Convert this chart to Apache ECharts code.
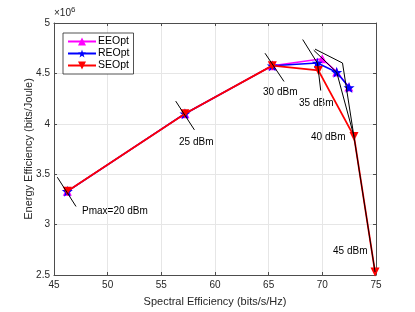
<!DOCTYPE html>
<html><head><meta charset="utf-8">
<script src="https://cdn.jsdelivr.net/npm/echarts@6/dist/echarts.min.js"></script>
<style>html,body{margin:0;padding:0;background:#fff}#c{width:415px;height:312px}</style>
</head><body><div id="c"></div>
<script>
const xTicks = [45, 50, 55, 60, 65, 70, 75];
const yTicks = [2.5, 3, 3.5, 4, 4.5, 5];
const powerLabels = ['Pmax=20 dBm', '25 dBm', '30 dBm', '35 dBm', '40 dBm', '45 dBm'];
// [spectral efficiency, energy efficiency (x1e6)]
const eeOpt = [[46.24, 3.33], [57.2, 4.10], [65.34, 4.577], [69.99, 4.645], [71.34, 4.515], [72.47, 4.365]];
const reOpt = [[46.24, 3.33], [57.2, 4.10], [65.34, 4.577], [69.53, 4.603], [71.34, 4.511], [72.49, 4.36]];
const seOpt = [[46.24, 3.33], [57.2, 4.10], [65.34, 4.577], [69.63, 4.53], [72.95, 3.875], [74.91, 2.53]];
// black guide lines grouping points of equal Pmax
const guide20 = [[45.31, 3.47], [47.05, 3.18]];
const guide25 = [[56.34, 4.225], [58.08, 3.94]];
const guide30 = [[64.66, 4.70], [66.43, 4.42]];
const guide35 = [[68.17, 4.836], [69.55, 4.60], [69.85, 4.33]];
const guide40 = [[69.2, 4.73], [71.34, 4.511], [72.95, 3.875]];
const guide45 = [[69.32, 4.741], [71.88, 4.603], [74.91, 2.53]];

const scale = 1e6;
const sc = a => a.map(p => [p[0], p[1] * scale]);
const FONT = 'Liberation Sans, Arial, sans-serif';
const TXT = '#262626';
const AX = '#4d4d4d';
const star = 'path://M50,0 L61.8,35.3 L98,35.3 L68.8,57 L79.5,91 L50,70 L20.5,91 L31.2,57 L2,35.3 L38.2,35.3 Z';

const chart = echarts.init(document.getElementById('c'), null, {renderer: 'canvas'});
const guideSeries = [guide20, guide25, guide30, guide35, guide40, guide45].map(g => ({
  type: 'line', data: sc(g), symbol: 'none', silent: true, z: 5,
  lineStyle: {color: '#000', width: 1}, animation: false
}));
const labelPos = [[82, 211], [179, 142], [263, 92], [299, 103], [311, 137], [333, 251]];

chart.setOption({
  animation: false,
  textStyle: {fontFamily: FONT},
  grid: {left: 54, right: 39, top: 23, bottom: 35, show: false},
  xAxis: [{
    type: 'value', min: 45, max: 75, interval: 5,
    name: 'Spectral Efficiency (bits/s/Hz)', nameLocation: 'middle', nameGap: 21, nameMoveOverlap: false,
    nameTextStyle: {color: TXT, fontSize: 11, fontFamily: FONT},
    axisLine: {show: true, lineStyle: {color: AX}},
    axisTick: {show: true, inside: true, length: 3, lineStyle: {color: AX}},
    axisLabel: {color: TXT, fontSize: 10, margin: 5, fontFamily: FONT},
    splitLine: {show: true, lineStyle: {color: '#e6e6e6'}}
  }, {
    type: 'value', position: 'top', min: 45, max: 75, interval: 5,
    axisLine: {show: true, lineStyle: {color: AX}},
    axisTick: {show: true, inside: true, length: 3, lineStyle: {color: AX}},
    axisLabel: {show: false}, splitLine: {show: false}
  }],
  yAxis: [{
    type: 'value', min: 2.5e6, max: 5e6, interval: 0.5e6,
    name: 'Energy Efficiency (bits/Joule)', nameLocation: 'middle', nameGap: 20, nameMoveOverlap: false,
    nameTextStyle: {color: TXT, fontSize: 11, fontFamily: FONT},
    axisLine: {show: true, lineStyle: {color: AX}},
    axisTick: {show: true, inside: true, length: 3, lineStyle: {color: AX}},
    axisLabel: {color: TXT, fontSize: 10, margin: 4, fontFamily: FONT, formatter: v => String(+(v / scale).toFixed(1))},
    splitLine: {show: true, lineStyle: {color: '#e6e6e6'}}
  }, {
    type: 'value', position: 'right', min: 2.5e6, max: 5e6, interval: 0.5e6,
    axisLine: {show: true, lineStyle: {color: AX}},
    axisTick: {show: true, inside: true, length: 3, lineStyle: {color: AX}},
    axisLabel: {show: false}, splitLine: {show: false}
  }],
  legend: {
    left: 63, top: 33, orient: 'vertical',
    data: ['EEOpt', 'REOpt', 'SEOpt'],
    itemWidth: 28, itemHeight: 10, itemGap: 1,
    padding: [3, 4, 3, 4],
    borderColor: '#262626', borderWidth: 0.8, backgroundColor: '#fff',
    textStyle: {color: '#000', fontSize: 10.5, fontFamily: FONT, padding: [0, 0, 0, -3]}
  },
  series: [
    {name: 'EEOpt', type: 'line', data: sc(eeOpt), symbol: 'triangle', symbolSize: 9, z: 2,
     lineStyle: {color: '#ff00ff', width: 1.5}, itemStyle: {color: '#ff00ff'}},
    {name: 'REOpt', type: 'line', data: sc(reOpt), symbol: star, symbolSize: 11, z: 3,
     lineStyle: {color: '#0000ff', width: 1.5}, itemStyle: {color: '#0000ff'}},
    {name: 'SEOpt', type: 'line', data: sc(seOpt), symbol: 'triangle', symbolRotate: 180, symbolSize: 9, z: 4,
     lineStyle: {color: '#ff0000', width: 1.8}, itemStyle: {color: '#ff0000'}},
    ...guideSeries
  ],
  graphic: [
    {type: 'text', left: 54, top: 6, style: {
      text: '×10{s|6}', fill: TXT, font: '10px ' + FONT,
      rich: {s: {fontSize: 8, verticalAlign: 'top', padding: [0, 0, 6, 0], fill: TXT}}
    }},
    ...powerLabels.map((t, i) => ({
      type: 'text', x: labelPos[i][0], y: labelPos[i][1],
      style: {text: t, fill: '#000', font: '10px ' + FONT, textVerticalAlign: 'middle', verticalAlign: 'middle'}
    }))
  ]
});
</script></body></html>
